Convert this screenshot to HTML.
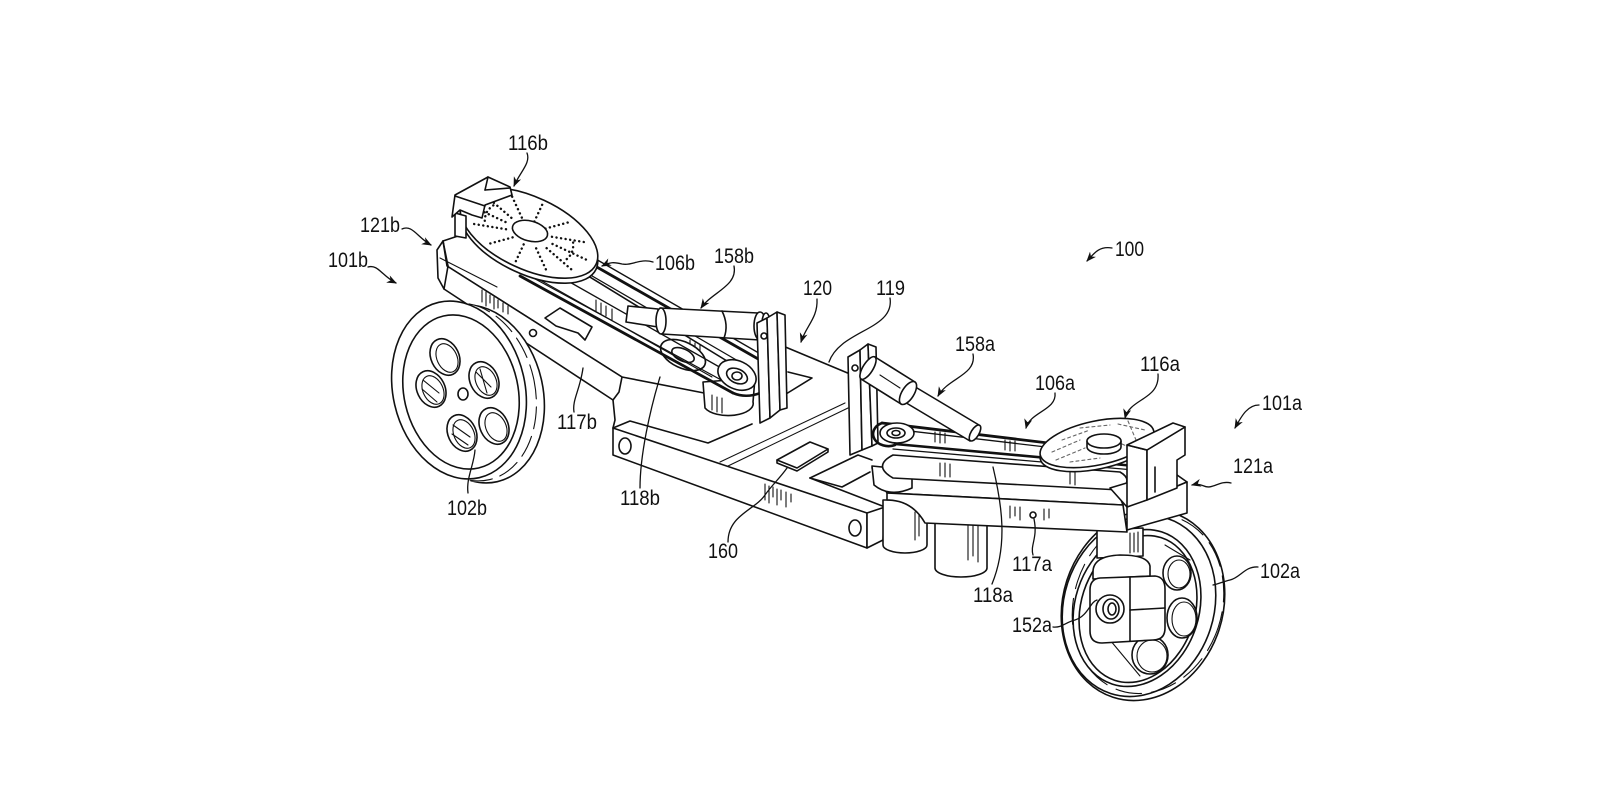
<!DOCTYPE html>
<html>
<head>
<meta charset="utf-8">
<style>
html,body{margin:0;padding:0;background:#fff;}
svg{display:block;}
text{font-family:"Liberation Sans",Arial,sans-serif;font-size:21px;fill:#111;}
</style>
</head>
<body>
<svg width="1600" height="800" viewBox="0 0 1600 800" xmlns="http://www.w3.org/2000/svg">
<defs>
<marker id="ah" viewBox="0 0 10 8" refX="9" refY="4" markerWidth="10" markerHeight="8" markerUnits="userSpaceOnUse" orient="auto">
<path d="M0,0 L10,4 L0,8 L3,4 Z" fill="#111"/>
</marker>
</defs>
<rect width="1600" height="800" fill="#fff"/>

<g fill="#fff" stroke="#111" stroke-width="1.6" stroke-linejoin="round" stroke-linecap="round">

<!-- ===== CHASSIS ===== -->
<polygon points="613,428 867,513 867,548 613,455"/>
<polygon points="867,513 885,507 883,540 867,548"/>
<ellipse cx="625" cy="446" rx="6" ry="8"/>
<ellipse cx="855" cy="528" rx="6" ry="8"/>
<polyline fill="none" points="613,428 630,421 708,443 752,424"/>
<line x1="810" y1="478" x2="885" y2="507"/>
<polyline fill="none" points="810,478 858,455 872,460"/>
<polyline fill="none" points="810,478 842,487 870,472"/>
<line x1="720" y1="462" x2="845" y2="403" stroke-width="1.1"/>
<line x1="728" y1="466" x2="848" y2="408" stroke-width="1.1"/>
<line x1="783" y1="346" x2="850" y2="374"/>
<line x1="783" y1="346" x2="770" y2="352"/>
<polyline fill="none" points="788,372 812,378 786,394"/>
<polyline fill="none" points="777,460 777,463 797,471 828,452 828,449"/>
<polygon points="777,460 810,442 828,449 797,468"/>
<g stroke-width="1.1">
<line x1="765" y1="484" x2="765" y2="500"/><line x1="769" y1="486" x2="769" y2="503"/>
<line x1="773" y1="487" x2="773" y2="497"/><line x1="777" y1="489" x2="777" y2="505"/>
<line x1="781" y1="490" x2="781" y2="500"/><line x1="786" y1="492" x2="786" y2="507"/>
<line x1="791" y1="494" x2="791" y2="502"/>
</g>

<!-- ===== LEFT ARM 117b ===== -->
<polygon points="443,241 500,222 745,372 740,400 622,377 447,266"/>
<polygon points="447,266 622,377 619,392 613,400 444,289 438,278 437,250 443,241"/>
<line x1="443" y1="241" x2="448" y2="266"/>
<line x1="448" y1="266" x2="444" y2="289"/>
<line x1="440" y1="258" x2="497" y2="287" stroke-width="1.1"/>
<polyline fill="none" points="613,400 615,420 613,428"/>
<path d="M545,318 L560,308 L592,327 L585,340 L578,333 L556,326 Z"/>
<circle cx="533" cy="333" r="3.5"/>
<g stroke-width="1.1">
<line x1="482" y1="290" x2="482" y2="302"/><line x1="486" y1="292" x2="486" y2="306"/>
<line x1="490" y1="295" x2="490" y2="303"/><line x1="494" y1="297" x2="494" y2="309"/>
<line x1="498" y1="300" x2="498" y2="308"/><line x1="503" y1="303" x2="503" y2="312"/>
<line x1="508" y1="306" x2="508" y2="314"/>
<line x1="596" y1="300" x2="596" y2="312"/><line x1="601" y1="303" x2="601" y2="314"/>
<line x1="606" y1="306" x2="606" y2="316"/><line x1="612" y1="309" x2="612" y2="320"/>
<line x1="690" y1="340" x2="690" y2="352"/><line x1="695" y1="343" x2="695" y2="353"/>
<line x1="700" y1="345" x2="700" y2="356"/>
</g>

<!-- left pulley cylinders -->
<path d="M703,382 L705,408 A25 12 0 0 0 753,402 L755,378 Z"/>
<g stroke-width="1.1"><line x1="712" y1="395" x2="712" y2="410"/><line x1="717" y1="397" x2="717" y2="412"/><line x1="722" y1="398" x2="722" y2="413"/></g>
<ellipse cx="683" cy="355" rx="24" ry="13" transform="rotate(25 683 355)"/>
<ellipse cx="683" cy="355" rx="12" ry="6" transform="rotate(25 683 355)" fill="none"/>

<!-- belt 106b -->
<g fill="none">
<line x1="520" y1="276" x2="733" y2="393" stroke-width="2.8"/>
<line x1="526" y1="274" x2="736" y2="388" stroke-width="1.2"/>
<line x1="552" y1="272" x2="730" y2="373" stroke-width="1.3"/>
<line x1="575" y1="266" x2="745" y2="365" stroke-width="1.3"/>
<line x1="588" y1="262" x2="760" y2="360" stroke-width="2.8"/>
<line x1="594" y1="258" x2="764" y2="356" stroke-width="1.4"/>
<line x1="540" y1="280" x2="712" y2="377" stroke-width="1.1"/>
<path d="M760,360 A22 16 0 0 1 733,393" stroke-width="2.6"/>
</g>
<ellipse cx="737" cy="375" rx="20" ry="14" transform="rotate(25 737 375)"/>
<ellipse cx="737" cy="376" rx="11" ry="7" transform="rotate(25 737 376)"/>
<ellipse cx="737" cy="376" rx="5" ry="4" fill="none"/>

<!-- actuator 158b -->
<polygon points="628,306 658,309 658,327 626,322"/>
<path d="M660,308 L758,313 L760,340 L662,334 Z"/>
<ellipse cx="661" cy="321" rx="5" ry="13"/>
<path d="M722,311 Q729,325 724,338" fill="none"/>
<ellipse cx="760" cy="326" rx="6" ry="14"/>
<ellipse cx="766" cy="323" rx="4" ry="10"/>

<!-- uprights 158b -->
<polygon points="757,323 767,318 770,418 760,423"/>
<polygon points="767,318 777,312 780,410 770,418"/>
<polygon points="777,312 785,315 787,408 780,410"/>
<circle cx="764" cy="336" r="3"/>

<!-- disk 116b -->
<ellipse cx="529" cy="238" rx="74" ry="36" transform="rotate(25 529 238)"/>
<ellipse cx="529" cy="233" rx="74" ry="36" transform="rotate(25 529 233)"/>
<g transform="translate(529 233) rotate(25)" fill="none" stroke-width="2.4" stroke-dasharray="0.1 4.5" stroke-linecap="round">
<line x1="25.9" y1="0" x2="65" y2="0"/>
<line x1="22.4" y1="6.3" x2="56.3" y2="15.8"/>
<line x1="13" y1="10.9" x2="32.5" y2="27.4"/>
<line x1="0" y1="12.6" x2="0" y2="31.7"/>
<line x1="-13" y1="10.9" x2="-32.5" y2="27.4"/>
<line x1="-22.4" y1="6.3" x2="-56.3" y2="15.8"/>
<line x1="-25.9" y1="0" x2="-65" y2="0"/>
<line x1="-22.4" y1="-6.3" x2="-56.3" y2="-15.8"/>
<line x1="-13" y1="-10.9" x2="-32.5" y2="-27.4"/>
<line x1="0" y1="-12.6" x2="0" y2="-31.7"/>
<line x1="13" y1="-10.9" x2="32.5" y2="-27.4"/>
<line x1="22.4" y1="-6.3" x2="56.3" y2="-15.8"/>
<path d="M44,-10 Q50,0 44,10"/>
<path d="M-44,-10 Q-50,0 -44,10"/>
</g>
<ellipse cx="530" cy="231" rx="18" ry="10" transform="rotate(15 530 231)"/>

<!-- block 121b -->
<polygon points="455,213 466,216 466,238 455,236"/>
<polygon points="455,195 488,177 510,187 512,195 485,205 482,218 472,215 460,210 452,217"/>
<line x1="455" y1="196" x2="485" y2="206"/>
<line x1="488" y1="177" x2="485" y2="190"/>
<line x1="485" y1="190" x2="510" y2="188"/>

<!-- wheel 102b -->
<ellipse cx="477" cy="394" rx="66" ry="90" transform="rotate(-13 477 394)"/>
<ellipse cx="472" cy="393" rx="66" ry="90" transform="rotate(-13 472 393)" stroke="none"/>
<ellipse cx="466" cy="392" rx="66" ry="90" transform="rotate(-13 466 392)" stroke="none"/>
<ellipse cx="469" cy="392" rx="66" ry="90" transform="rotate(-13 469 392)" fill="none" stroke-width="1.1" stroke-dasharray="22 8"/>
<ellipse cx="459" cy="390" rx="66" ry="90" transform="rotate(-13 459 390)"/>
<ellipse cx="461" cy="392" rx="57" ry="78" transform="rotate(-13 461 392)" fill="none"/>
<ellipse cx="445" cy="357" rx="14" ry="19" transform="rotate(-25 445 357)"/>
<ellipse cx="431" cy="389" rx="14" ry="19" transform="rotate(-25 431 389)"/>
<ellipse cx="484" cy="380" rx="14" ry="19" transform="rotate(-25 484 380)"/>
<ellipse cx="462" cy="433" rx="14" ry="19" transform="rotate(-25 462 433)"/>
<ellipse cx="494" cy="426" rx="14" ry="19" transform="rotate(-25 494 426)"/>
<g fill="none" stroke-width="1.1">
<ellipse cx="447" cy="358" rx="10" ry="15" transform="rotate(-25 447 358)"/>
<ellipse cx="433" cy="390" rx="10" ry="15" transform="rotate(-25 433 390)"/>
<ellipse cx="486" cy="381" rx="10" ry="15" transform="rotate(-25 486 381)"/>
<ellipse cx="464" cy="434" rx="10" ry="15" transform="rotate(-25 464 434)"/>
<ellipse cx="496" cy="427" rx="10" ry="15" transform="rotate(-25 496 427)"/>
<line x1="423" y1="380" x2="439" y2="393"/><line x1="422" y1="389" x2="437" y2="402"/>
<line x1="453" y1="425" x2="470" y2="437"/><line x1="452" y1="434" x2="468" y2="445"/>
<line x1="476" y1="372" x2="491" y2="387"/><line x1="480" y1="369" x2="487" y2="393"/>
</g>
<ellipse cx="463" cy="394" rx="5" ry="6"/>

<!-- ===== RIGHT SIDE ===== -->
<!-- motors -->
<path d="M883,500 L883,545 A22 8 0 0 0 927,545 L927,500 Z"/>
<path d="M935,505 L935,568 A26 9 0 0 0 987,568 L987,505 Z"/>
<g stroke-width="1.1">
<line x1="968" y1="520" x2="968" y2="560"/><line x1="973" y1="522" x2="973" y2="556"/><line x1="978" y1="520" x2="978" y2="562"/>
<line x1="915" y1="512" x2="915" y2="540"/><line x1="919" y1="514" x2="919" y2="536"/>
</g>

<!-- wheel 102a -->
<ellipse cx="1143" cy="605" rx="80" ry="97" transform="rotate(18 1143 605)"/>
<ellipse cx="1139" cy="606" rx="75" ry="92" transform="rotate(18 1139 606)" fill="none"/>
<ellipse cx="1148" cy="604" rx="74" ry="91" transform="rotate(18 1148 604)" fill="none" stroke-width="1.1" stroke-dasharray="26 10"/>
<ellipse cx="1137" cy="608" rx="62" ry="80" transform="rotate(18 1137 608)"/>
<ellipse cx="1138" cy="609" rx="57" ry="75" transform="rotate(18 1138 609)" fill="none"/>
<ellipse cx="1177" cy="573" rx="14" ry="17"/>
<ellipse cx="1182" cy="618" rx="15" ry="20"/>
<ellipse cx="1150" cy="655" rx="18" ry="19"/>
<g fill="none" stroke-width="1.1">
<ellipse cx="1179" cy="574" rx="11" ry="14"/>
<ellipse cx="1184" cy="619" rx="12" ry="17"/>
<ellipse cx="1152" cy="656" rx="15" ry="16"/>
<line x1="1110" y1="640" x2="1140" y2="676"/>
<line x1="1165" y1="545" x2="1190" y2="560"/>
</g>

<!-- caster 152a -->
<path d="M1097,530 L1097,558 L1143,556 L1143,528 Z"/>
<g stroke-width="1.1"><line x1="1130" y1="533" x2="1130" y2="553"/><line x1="1134" y1="533" x2="1134" y2="552"/><line x1="1138" y1="532" x2="1138" y2="552"/></g>
<path d="M1093,572 Q1093,556 1120,555 Q1148,555 1150,566 L1150,576 L1093,579 Z"/>
<path d="M1090,590 Q1090,579 1100,578 L1155,576 Q1165,577 1165,589 L1165,628 Q1165,640 1153,640 L1102,643 Q1090,643 1090,631 Z"/>
<line x1="1130" y1="577" x2="1130" y2="641"/>
<line x1="1130" y1="610" x2="1165" y2="608"/>
<circle cx="1110" cy="609" r="14"/>
<ellipse cx="1111" cy="609" rx="8" ry="10"/>
<ellipse cx="1112" cy="609" rx="4" ry="6"/>

<!-- right arm 117a -->
<polygon points="872,468 1115,484 1123,505 887,493"/>
<path d="M887,493 L1123,505 L1127,532 L925,523 Q912,500 887,500 Z"/>
<circle cx="1033" cy="515" r="3"/>
<g stroke-width="1.1">
<line x1="1010" y1="506" x2="1010" y2="518"/><line x1="1015" y1="507" x2="1015" y2="516"/>
<line x1="1020" y1="507" x2="1020" y2="520"/><line x1="1044" y1="509" x2="1044" y2="520"/>
<line x1="1049" y1="509" x2="1049" y2="518"/>
</g>

<!-- rounded plate + pulley cylinder -->
<path d="M872,466 L874,485 Q890,498 912,488 L912,470 Z"/>
<path d="M893,455 L1120,472 Q1134,480 1120,490 L893,478 Q872,466 893,455 Z"/>
<g stroke-width="1.1">
<line x1="940" y1="463" x2="940" y2="476"/><line x1="945" y1="463" x2="945" y2="477"/>
<line x1="950" y1="464" x2="950" y2="477"/><line x1="1070" y1="472" x2="1070" y2="484"/>
<line x1="1075" y1="472" x2="1075" y2="485"/>
</g>

<!-- uprights 119 -->
<polygon points="848,357 860,350 862,450 850,455"/>
<polygon points="860,350 868,344 872,446 862,450"/>
<polygon points="868,344 876,347 878,443 872,446"/>
<circle cx="855" cy="368" r="3"/>

<!-- belt 106a -->
<g fill="none">
<line x1="882" y1="423" x2="1140" y2="454" stroke-width="2.8"/>
<line x1="884" y1="428" x2="1140" y2="458" stroke-width="1.3"/>
<line x1="895" y1="444" x2="1135" y2="466" stroke-width="2.6"/>
<line x1="893" y1="449" x2="1134" y2="470" stroke-width="1.3"/>
<path d="M882,423 A14 11 0 0 0 895,445" stroke-width="2.6"/>
</g>
<g stroke-width="1.1">
<line x1="935" y1="432" x2="935" y2="442"/><line x1="940" y1="432" x2="940" y2="443"/>
<line x1="945" y1="433" x2="945" y2="443"/><line x1="1005" y1="440" x2="1005" y2="450"/>
<line x1="1010" y1="441" x2="1010" y2="451"/><line x1="1015" y1="441" x2="1015" y2="451"/>
</g>
<ellipse cx="897" cy="433" rx="17" ry="10"/>
<ellipse cx="896" cy="433" rx="9" ry="5"/>
<ellipse cx="896" cy="433" rx="4" ry="2.5" fill="none"/>

<!-- disk 116a -->
<line x1="1045" y1="458" x2="1142" y2="456" stroke-width="2.6"/>
<ellipse cx="1097" cy="447" rx="58" ry="22" transform="rotate(-12 1097 447)"/>
<ellipse cx="1097" cy="443" rx="58" ry="22" transform="rotate(-12 1097 443)"/>
<g fill="none" stroke="#666" stroke-width="1.1" stroke-dasharray="3 3">
<line x1="1052" y1="452" x2="1080" y2="440"/>
<line x1="1056" y1="460" x2="1085" y2="448"/>
<line x1="1062" y1="440" x2="1090" y2="430"/>
<line x1="1080" y1="428" x2="1110" y2="425"/>
<line x1="1118" y1="424" x2="1145" y2="430"/>
<line x1="1122" y1="444" x2="1140" y2="452"/>
<line x1="1070" y1="462" x2="1100" y2="458"/>
<line x1="1128" y1="421" x2="1136" y2="440"/>
</g>
<path d="M1087,441 L1087,447 A17 7 0 0 0 1121,447 L1121,441 Z"/>
<ellipse cx="1104" cy="441" rx="17" ry="7"/>

<!-- blocks 121a -->
<polygon points="1110,488 1170,470 1187,482 1127,507"/>
<polygon points="1127,507 1187,482 1187,513 1127,530"/>
<polygon points="1127,445 1147,450 1147,500 1127,507"/>
<polygon points="1147,450 1185,427 1185,455 1177,460 1177,488 1147,500"/>
<polygon points="1127,445 1173,423 1185,427 1147,450"/>
<line x1="1155" y1="467" x2="1155" y2="492"/>

<!-- actuator 158a -->
<polygon points="912,385 979,425 970,441 903,401"/>
<ellipse cx="975" cy="433" rx="4" ry="9" transform="rotate(31 975 433)"/>
<polygon points="875,357 915,382 901,404 861,379"/>
<ellipse cx="868" cy="368" rx="5" ry="13" transform="rotate(32 868 368)"/>
<ellipse cx="908" cy="393" rx="6" ry="13" transform="rotate(32 908 393)"/>
<line x1="880" y1="375" x2="900" y2="388" stroke-width="1.1"/>
</g>

<!-- ===== LEADERS ===== -->
<g fill="none" stroke="#111" stroke-width="1.3" stroke-linecap="round">
<path d="M527,153 C531,163 520,172 514,186" marker-end="url(#ah)"/>
<path d="M402,229 C412,224 418,238 431,245" marker-end="url(#ah)"/>
<path d="M368,267 C378,264 382,276 396,283" marker-end="url(#ah)"/>
<path d="M653,262 C640,258 632,266 622,264 C614,262 610,262 602,266" marker-end="url(#ah)"/>
<path d="M734,266 C738,286 712,292 701,308" marker-end="url(#ah)"/>
<path d="M817,299 C818,318 806,326 801,342" marker-end="url(#ah)"/>
<path d="M890,298 C895,330 840,330 829,362"/>
<path d="M1112,248 C1100,246 1095,252 1087,261" marker-end="url(#ah)"/>
<path d="M973,354 C977,375 948,378 938,396" marker-end="url(#ah)"/>
<path d="M1055,393 C1057,410 1030,412 1026,428" marker-end="url(#ah)"/>
<path d="M1158,374 C1160,400 1130,398 1125,418" marker-end="url(#ah)"/>
<path d="M1259,405 C1248,405 1242,415 1235,428" marker-end="url(#ah)"/>
<path d="M1231,483 C1220,480 1212,490 1204,486 C1199,484 1196,484 1192,485" marker-end="url(#ah)"/>
<path d="M1258,567 C1245,566 1240,578 1230,580 C1222,582 1218,584 1213,585"/>
<path d="M1053,627 C1062,628 1066,622 1075,620 C1088,616 1090,602 1097,600"/>
<path d="M1033,555 C1030,545 1038,538 1034,519"/>
<path d="M992,584 C1008,545 1002,505 993,467"/>
<path d="M574,412 C572,400 580,390 583,368"/>
<path d="M640,488 C640,455 650,410 660,377"/>
<path d="M468,493 C466,478 474,465 475,450"/>
<path d="M728,542 C728,515 755,510 765,495 C772,485 780,478 787,468"/>
</g>

<!-- ===== LABELS ===== -->
<text x="508" y="150" textLength="40" lengthAdjust="spacingAndGlyphs">116b</text>
<text x="360" y="232" textLength="40" lengthAdjust="spacingAndGlyphs">121b</text>
<text x="328" y="267" textLength="40" lengthAdjust="spacingAndGlyphs">101b</text>
<text x="655" y="270" textLength="40" lengthAdjust="spacingAndGlyphs">106b</text>
<text x="714" y="263" textLength="40" lengthAdjust="spacingAndGlyphs">158b</text>
<text x="803" y="295" textLength="29" lengthAdjust="spacingAndGlyphs">120</text>
<text x="876" y="295" textLength="29" lengthAdjust="spacingAndGlyphs">119</text>
<text x="1115" y="256" textLength="29" lengthAdjust="spacingAndGlyphs">100</text>
<text x="955" y="351" textLength="40" lengthAdjust="spacingAndGlyphs">158a</text>
<text x="1035" y="390" textLength="40" lengthAdjust="spacingAndGlyphs">106a</text>
<text x="1140" y="371" textLength="40" lengthAdjust="spacingAndGlyphs">116a</text>
<text x="1262" y="410" textLength="40" lengthAdjust="spacingAndGlyphs">101a</text>
<text x="1233" y="473" textLength="40" lengthAdjust="spacingAndGlyphs">121a</text>
<text x="557" y="429" textLength="40" lengthAdjust="spacingAndGlyphs">117b</text>
<text x="620" y="505" textLength="40" lengthAdjust="spacingAndGlyphs">118b</text>
<text x="447" y="515" textLength="40" lengthAdjust="spacingAndGlyphs">102b</text>
<text x="708" y="558" textLength="30" lengthAdjust="spacingAndGlyphs">160</text>
<text x="1012" y="571" textLength="40" lengthAdjust="spacingAndGlyphs">117a</text>
<text x="973" y="602" textLength="40" lengthAdjust="spacingAndGlyphs">118a</text>
<text x="1260" y="578" textLength="40" lengthAdjust="spacingAndGlyphs">102a</text>
<text x="1012" y="632" textLength="40" lengthAdjust="spacingAndGlyphs">152a</text>
</svg>
</body>
</html>
